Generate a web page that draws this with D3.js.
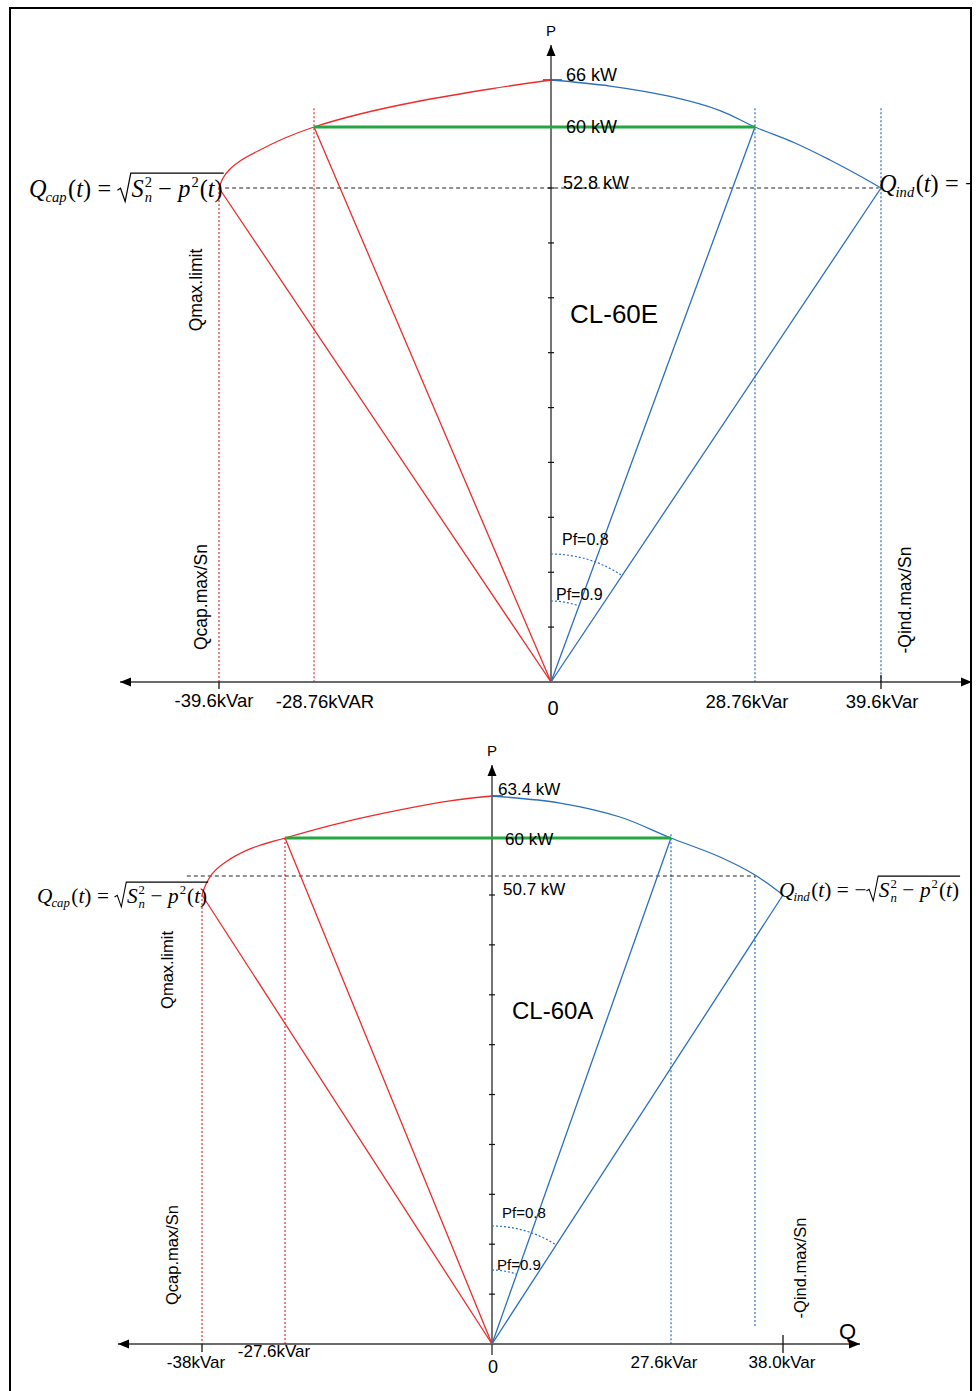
<!DOCTYPE html>
<html><head><meta charset="utf-8">
<script src="https://cdn.jsdelivr.net/npm/d3@7"></script>
<style>body{margin:0;background:#fff}svg{display:block}</style>
</head><body><svg id="c" width="977" height="1391"></svg>
<script>
// ================= DATA : upper diagram (CL-60E) =================
const e_title = "CL-60E";
const e_qValues = [-39.6, -28.76, 0, 28.76, 39.6];
const e_qLabels = ["-39.6kVar", "-28.76kVAR", "0", "28.76kVar", "39.6kVar"];
const e_pValues = [0, 52.8, 60, 66];
const e_pLabels = ["", "52.8 kW", "60 kW", "66 kW"];
const e_pTicks = [5.87, 11.73, 17.6, 23.47, 29.33, 35.2, 41.07, 46.93, 52.8, 66];
const e_capArcQ = [-39.6, -39.14, -38.34, -37.2, -34.92, -32.07, -28.76, -23.18, -15.9, -7.4, 0];
const e_capArcP = [52.8, 53.98, 55.04, 55.99, 57.29, 58.7, 60, 61.66, 63.32, 64.85, 66];
const e_indArcQ = [0, 8.32, 16.78, 23.83, 28.76, 32.2, 35.21, 37.79, 39.6];
const e_indArcP = [66, 65.23, 63.9, 62.1, 60, 58.11, 56.1, 54.22, 52.8];
const e_capLimitQ = [-39.6, -28.76];
const e_capLimitP = [52.8, 60];
const e_indLimitQ = [28.76, 39.6];
const e_indLimitP = [60, 52.8];
const e_ratedP = 60;
const e_dashP = 52.8;
const e_dashQ = [-38.9, 39.4];
const e_vLineQ = [-39.6, -28.76, 28.76, 39.6];
const e_vLineTopP = [52.8, 62.4, 62.4, 62.4];
const e_vLineBotP = [0, 0, 0, 0];
const e_pfLabels = ["Pf=0.8", "Pf=0.9"];
const e_sideLabels = ["Qmax.limit", "Qcap.max/Sn", "-Qind.max/Sn"];

// ================= DATA : lower diagram (CL-60A) =================
const a_title = "CL-60A";
const a_qValues = [-38, -27.6, 0, 27.6, 38];
const a_qLabels = ["-38kVar", "-27.6kVar", "0", "27.6kVar", "38.0kVar"];
const a_pValues = [0, 50.7, 60, 63.4];
const a_pLabels = ["", "50.7 kW", "60 kW", "63.4 kW"];
const a_pTicks = [5.63, 11.27, 16.9, 22.53, 28.17, 33.8, 39.43, 45.07, 50.7, 63.4];
const a_capArcQ = [-38, -37.55, -36.7, -35.12, -31.99, -27.6, -20.27, -12.27, -5.6, 0];
const a_capArcP = [50.7, 52.33, 54.2, 56.0, 58.21, 60, 61.21, 62.27, 63.0, 63.4];
const a_indArcQ = [0, 10.48, 19.73, 27.6, 32.15, 35.4, 38];
const a_indArcP = [63.4, 62.83, 61.7, 60, 56.9, 53.96, 50.7];
const a_capLimitQ = [-38, -27.6];
const a_capLimitP = [50.7, 60];
const a_indLimitQ = [27.6, 38];
const a_indLimitP = [60, 50.7];
const a_ratedP = 60;
const a_dashP = 53.8;
const a_dashQ = [-39.9, 35.4];
const a_vLineQ = [-38, -27.6, 27.6, 35.4];
const a_vLineTopP = [50.7, 60, 60.3, 53.8];
const a_vLineBotP = [0, 0, 0, 1.8];
const a_pfLabels = ["Pf=0.8", "Pf=0.9"];
const a_sideLabels = ["Qmax.limit", "Qcap.max/Sn", "-Qind.max/Sn"];

// ================= STYLE =================
const RED = "#ee2b2b", BLUE = "#2a6fbd", GREEN = "#25a640", AXIS = "#3a3a3a";
const SANS = "'Liberation Sans', Arial, Helvetica, sans-serif";
const SERIF = "'Liberation Serif', 'Times New Roman', serif";

const svg = d3.select("#c");
svg.append("rect").attr("width", 977).attr("height", 1391).attr("fill", "#fff");
const defs = svg.append("defs");
defs.append("clipPath").attr("id", "fc").append("rect")
  .attr("x", 11).attr("y", 9).attr("width", 959).attr("height", 1400);
const root = svg.append("g").attr("clip-path", "url(#fc)");

function arrow(g, x, y, dir) {
  const L = 11, Wd = 4.5;
  let pts;
  if (dir === "left") pts = [[x, y], [x + L, y - Wd], [x + L, y + Wd]];
  if (dir === "right") pts = [[x, y], [x - L, y - Wd], [x - L, y + Wd]];
  if (dir === "up") pts = [[x, y], [x - Wd, y + L], [x + Wd, y + L]];
  g.append("path").attr("d", "M" + pts.map(p => p.join(",")).join("L") + "Z").attr("fill", "#000");
}

function formula(g, x, y, fs, name, negative) {
  const t = g.append("g").attr("font-family", SERIF).attr("fill", "#000");
  let cx = x;
  function put(str, o = {}) {
    const el = t.append("text").attr("x", cx).attr("y", y + (o.dy || 0))
      .attr("font-size", o.fs || fs).attr("font-style", o.it ? "italic" : "normal").text(str);
    const w = el.node().getComputedTextLength();
    if (!o.noAdv) cx += w + (o.pad || 0);
    return w;
  }
  put("Q", { it: true, pad: -1 });
  put(name, { it: true, fs: fs * 0.6, dy: fs * 0.2, pad: 1.5 });
  put("(", {}); put("t", { it: true }); put(")", { pad: fs * 0.26 });
  put("=", { pad: fs * 0.26 });
  if (negative) put("−", { pad: 0 });
  const rx = cx, rw = fs * 0.58;
  cx += rw;
  put("S", { it: true, pad: 1 });
  const w1 = put("2", { fs: fs * 0.6, dy: -fs * 0.42, noAdv: true });
  const w2 = put("n", { it: true, fs: fs * 0.6, dy: fs * 0.22, noAdv: true });
  cx += Math.max(w1, w2) + fs * 0.26;
  put("−", { pad: fs * 0.26 });
  put("p", { it: true, pad: 1 });
  put("2", { fs: fs * 0.6, dy: -fs * 0.42, pad: 1 });
  put("("); put("t", { it: true }); put(")");
  const top = y - fs * 0.98;
  t.append("path")
    .attr("d", `M${rx},${y - fs * 0.28}L${rx + rw * 0.22},${y - fs * 0.36}L${rx + rw * 0.55},${y + fs * 0.18}L${rx + rw * 0.95},${top}L${cx + 1},${top}`)
    .attr("fill", "none").attr("stroke", "#000").attr("stroke-width", fs * 0.05);
}

function diagram(D, L) {
  const g = root.append("g");
  const x = d3.scaleLinear().domain(D.qValues).range(L.qRange);
  const y = d3.scaleLinear().domain(D.pValues).range(L.pRange);
  const ox = x(0), oy = y(0);

  D.vLineQ.forEach((q, i) => {
    g.append("line").attr("x1", x(q)).attr("x2", x(q))
      .attr("y1", y(D.vLineTopP[i])).attr("y2", y(D.vLineBotP[i]))
      .attr("stroke", q < 0 ? RED : BLUE).attr("stroke-width", 1.2).attr("stroke-dasharray", "2,2");
  });
  g.append("line").attr("x1", x(D.dashQ[0])).attr("x2", x(D.dashQ[1]))
    .attr("y1", y(D.dashP)).attr("y2", y(D.dashP))
    .attr("stroke", "#222").attr("stroke-width", 1).attr("stroke-dasharray", "4,3");

  g.append("line").attr("x1", L.xAxis[0]).attr("x2", L.xAxis[1]).attr("y1", oy).attr("y2", oy)
    .attr("stroke", AXIS).attr("stroke-width", 1.4);
  arrow(g, L.xAxis[0], oy, "left");
  arrow(g, L.xAxis[1], oy, "right");
  g.append("line").attr("x1", ox).attr("x2", ox).attr("y1", oy + L.yAxisBelow).attr("y2", L.yAxisTop)
    .attr("stroke", AXIS).attr("stroke-width", 1.4);
  arrow(g, ox, L.yAxisTop, "up");
  g.append("text").attr("x", ox).attr("y", L.yAxisTop - 9).attr("text-anchor", "middle")
    .attr("font-family", SANS).attr("font-size", 15).text("P");
  if (L.qName) g.append("text").attr("x", L.qName[0]).attr("y", L.qName[1])
    .attr("font-family", SANS).attr("font-size", 22).text("Q");

  D.pTicks.forEach((p, i) => {
    const major = i === D.pTicks.length - 1;
    g.append("line").attr("x1", ox + (major ? L.majTick[0] : -3)).attr("x2", ox + (major ? L.majTick[1] : 3))
      .attr("y1", y(p)).attr("y2", y(p)).attr("stroke", "#111").attr("stroke-width", 1.2);
  });
  [D.qValues[0], D.qValues[4]].forEach((q, i) => {
    g.append("line").attr("x1", x(q)).attr("x2", x(q))
      .attr("y1", oy + L.qTick[i][0]).attr("y2", oy + L.qTick[i][1]).attr("stroke", "#111").attr("stroke-width", 1.3);
  });

  D.qLabels.forEach((lab, i) => {
    g.append("text").attr("x", x(D.qValues[i]) + L.qLabDx[i]).attr("y", oy + L.qLabDy[i])
      .attr("text-anchor", "middle").attr("font-family", SANS)
      .attr("font-size", i === 2 ? L.zeroFs : L.qFs).text(lab);
  });

  const line = d3.line().x(d => x(d[0])).y(d => y(d[1]));
  D.capLimitQ.forEach((q, i) => {
    g.append("path").attr("d", line([[0, 0], [q, D.capLimitP[i]]])).attr("stroke", RED).attr("stroke-width", 1.3).attr("fill", "none");
  });
  D.indLimitQ.forEach((q, i) => {
    g.append("path").attr("d", line([[0, 0], [q, D.indLimitP[i]]])).attr("stroke", BLUE).attr("stroke-width", 1.3).attr("fill", "none");
  });

  const curve = d3.line().x(d => x(d[0])).y(d => y(d[1])).curve(d3.curveCatmullRom.alpha(0.5));
  g.append("path").attr("d", curve(D.capArcQ.map((q, i) => [q, D.capArcP[i]])))
    .attr("stroke", RED).attr("stroke-width", 1.3).attr("fill", "none");
  g.append("path").attr("d", curve(D.indArcQ.map((q, i) => [q, D.indArcP[i]])))
    .attr("stroke", BLUE).attr("stroke-width", 1.3).attr("fill", "none");

  g.append("path").attr("d", line([[D.capLimitQ[1], D.ratedP], [D.indLimitQ[0], D.ratedP]]))
    .attr("stroke", GREEN).attr("stroke-width", 3.2);

  D.pLabels.forEach((lab, i) => {
    if (!lab) return;
    g.append("text").attr("x", ox + L.pLabDx[i]).attr("y", y(D.pValues[i]) + L.pLabDy[i])
      .attr("font-family", SANS).attr("font-size", L.pFs).text(lab);
  });

  const angOuter = Math.atan2(x(D.indLimitQ[1]) - ox, oy - y(D.indLimitP[1]));
  const angInner = Math.atan2(x(D.indLimitQ[0]) - ox, oy - y(D.indLimitP[0]));
  [[L.pfR[0], angOuter], [L.pfR[1], angInner]].forEach(([r, a]) => {
    const p = d3.path();
    p.moveTo(ox, oy - r);
    p.arc(ox, oy, r, -Math.PI / 2, -Math.PI / 2 + a, false);
    g.append("path").attr("d", p.toString()).attr("fill", "none").attr("stroke", BLUE)
      .attr("stroke-width", 1.2).attr("stroke-dasharray", "2,2");
  });
  D.pfLabels.forEach((lab, i) => {
    g.append("text").attr("x", ox + L.pfLab[i][0]).attr("y", oy + L.pfLab[i][1])
      .attr("font-family", SANS).attr("font-size", L.pfFs).text(lab);
  });

  D.sideLabels.forEach((lab, i) => {
    g.append("text").attr("transform", `translate(${L.side[i][0]},${L.side[i][1]}) rotate(-90)`)
      .attr("text-anchor", "middle").attr("dominant-baseline", "central")
      .attr("font-family", SANS).attr("font-size", L.sideFs).text(lab);
  });

  g.append("text").attr("x", L.title[0]).attr("y", L.title[1]).attr("font-family", SANS)
    .attr("font-size", L.titleFs).text(D.title);

  formula(g, L.fLeft[0], L.fLeft[1], L.fFs, "cap", false);
  formula(g, L.fRight[0], L.fRight[1], L.fFs, "ind", true);
}

diagram({
  title: e_title, qValues: e_qValues, qLabels: e_qLabels, pValues: e_pValues, pLabels: e_pLabels,
  pTicks: e_pTicks, capArcQ: e_capArcQ, capArcP: e_capArcP, indArcQ: e_indArcQ, indArcP: e_indArcP,
  capLimitQ: e_capLimitQ, capLimitP: e_capLimitP, indLimitQ: e_indLimitQ, indLimitP: e_indLimitP,
  ratedP: e_ratedP, dashP: e_dashP, dashQ: e_dashQ, vLineQ: e_vLineQ, vLineTopP: e_vLineTopP,
  vLineBotP: e_vLineBotP, pfLabels: e_pfLabels, sideLabels: e_sideLabels
}, {
  qRange: [219, 314, 551, 755, 881], pRange: [682, 188, 127, 80],
  xAxis: [120, 972], yAxisTop: 45, yAxisBelow: 0, qName: null,
  majTick: [-8, 11], qTick: [[0, 7], [-7, 7]],
  qLabDx: [-5, 11, 2, -8, 1], qLabDy: [25, 26, 33, 26, 26], qFs: 18.5, zeroFs: 20,
  pLabDx: [0, 12, 15, 15], pLabDy: [0, 1, 6, 1], pFs: 18,
  pfR: [128, 81], pfLab: [[11, -137], [5, -82]], pfFs: 16,
  side: [[196, 290], [201, 597], [905, 600]], sideFs: 17.5,
  title: [570, 323], titleFs: 26,
  fLeft: [29, 197], fRight: [879, 192], fFs: 24.3
});

diagram({
  title: a_title, qValues: a_qValues, qLabels: a_qLabels, pValues: a_pValues, pLabels: a_pLabels,
  pTicks: a_pTicks, capArcQ: a_capArcQ, capArcP: a_capArcP, indArcQ: a_indArcQ, indArcP: a_indArcP,
  capLimitQ: a_capLimitQ, capLimitP: a_capLimitP, indLimitQ: a_indLimitQ, indLimitP: a_indLimitP,
  ratedP: a_ratedP, dashP: a_dashP, dashQ: a_dashQ, vLineQ: a_vLineQ, vLineTopP: a_vLineTopP,
  vLineBotP: a_vLineBotP, pfLabels: a_pfLabels, sideLabels: a_sideLabels
}, {
  qRange: [202, 285, 492, 671, 783], pRange: [1344, 895, 838, 796],
  xAxis: [118, 860], yAxisTop: 765, yAxisBelow: 11, qName: [839, 1339],
  majTick: [0, 11], qTick: [[0, 8], [-9, 9]],
  qLabDx: [-6, -11, 1, -7, -1], qLabDy: [24, 13, 29, 24, 24], qFs: 17, zeroFs: 18,
  pLabDx: [0, 11, 13, 6], pLabDy: [0, 0, 7, -1], pFs: 17,
  pfR: [118, 74], pfLab: [[10, -126], [5, -74]], pfFs: 15,
  side: [[167, 970], [172, 1255], [800, 1268]], sideFs: 16.5,
  title: [512, 1019], titleFs: 24,
  fLeft: [37, 903], fRight: [779, 897], fFs: 21.3
});

svg.append("rect").attr("x", 10).attr("y", 8).attr("width", 961).attr("height", 1400)
  .attr("fill", "none").attr("stroke", "#000").attr("stroke-width", 2);
</script></body></html>
